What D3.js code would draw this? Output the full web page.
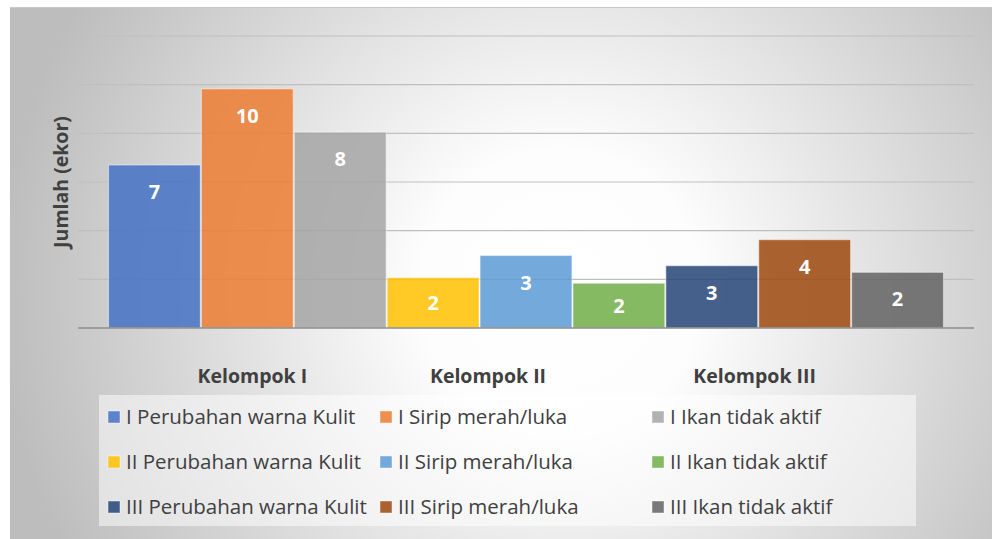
<!DOCTYPE html>
<html>
<head>
<meta charset="utf-8">
<script src="https://cdn.jsdelivr.net/npm/d3@7"></script>
<style>
  body { margin: 0; background: #fff; }
  svg { display: block; font-family: "Open Sans", "Noto Sans", sans-serif; }
</style>
</head>
<body>
<div id="chart"></div>
<script>
// data
const groups = ["Kelompok I", "Kelompok II", "Kelompok III"];
const prefixes = ["I", "II", "III"];
const symptoms = ["Perubahan warna Kulit", "Sirip merah/luka", "Ikan tidak aktif"];
const values1 = [6.7, 9.83, 8.05];
const values2 = [2.07, 2.98, 1.84];
const values3 = [2.56, 3.63, 2.29];
const yTicks = [0, 2, 4, 6, 8, 10, 12];
const colors = ["#4472C4", "#ED7D31", "#A5A5A5",
                "#FFC000", "#5B9BD5", "#70AD47",
                "#264478", "#9E480E", "#636363"];

const W = 992, H = 539;
// label shift from the centre of each group's middle bar (labels sit off-centre in the original)
const labelShift = [5, -38, -50];

const allValues = [values1, values2, values3];
const bars = [];
allValues.forEach((vals, g) => {
  vals.forEach((v, s) => {
    bars.push({
      id: prefixes[g] + " " + symptoms[s],
      group: g,
      value: v,
      color: colors[g * 3 + s]
    });
  });
});

const svg = d3.select("#chart").append("svg")
  .attr("width", W).attr("height", H);

const defs = svg.append("defs");
const grad = defs.append("radialGradient")
  .attr("id", "bg")
  .attr("gradientUnits", "userSpaceOnUse")
  .attr("cx", 560).attr("cy", 290).attr("r", 560);
grad.append("stop").attr("offset", "0%").attr("stop-color", "#ffffff");
grad.append("stop").attr("offset", "25%").attr("stop-color", "#fdfdfd");
grad.append("stop").attr("offset", "100%").attr("stop-color", "#bdbdbd");

// chart area
svg.append("rect")
  .attr("x", 10).attr("y", 7)
  .attr("width", W - 10).attr("height", H - 7)
  .attr("fill", "url(#bg)");
svg.append("line")
  .attr("x1", 10).attr("x2", W).attr("y1", 7.5).attr("y2", 7.5)
  .attr("stroke", "#c8c8c8");

const plot = {left: 78, right: 974, top: 36, bottom: 328};

const y = d3.scaleLinear()
  .domain([0, 12])
  .range([plot.bottom, plot.top]);

const x = d3.scaleBand()
  .domain(bars.map(d => d.id))
  .range([108, 944])
  .paddingInner(0);

// gridlines
svg.append("g")
  .selectAll("line")
  .data(yTicks.filter(t => t > 0))
  .join("line")
    .attr("x1", plot.left).attr("x2", plot.right)
    .attr("y1", d => y(d)).attr("y2", d => y(d))
    .attr("stroke", "#bfbfbf")
    .attr("stroke-width", 1.2);

// bars
svg.append("g")
  .selectAll("rect")
  .data(bars)
  .join("rect")
    .attr("x", d => x(d.id) + 0.5)
    .attr("y", d => y(d.value))
    .attr("width", x.bandwidth() - 1)
    .attr("height", d => y(0) - y(d.value))
    .attr("fill", d => d.color)
    .attr("fill-opacity", 0.85)
    .attr("stroke", "#ffffff")
    .attr("stroke-opacity", 0.45)
    .attr("stroke-width", 1.2);

// baseline
svg.append("line")
  .attr("x1", plot.left).attr("x2", plot.right)
  .attr("y1", y(0)).attr("y2", y(0))
  .attr("stroke", "#8c8c8c")
  .attr("stroke-width", 1.5);

// value labels
svg.append("g")
  .selectAll("text")
  .data(bars)
  .join("text")
    .attr("x", d => x(d.id) + x.bandwidth() / 2)
    .attr("y", d => {
      const h = y(0) - y(d.value);
      return y(d.value) + Math.min(27, h / 2);
    })
    .attr("dy", "0.36em")
    .attr("text-anchor", "middle")
    .attr("fill", "#ffffff")
    .attr("font-weight", "bold")
    .attr("font-size", 20)
    .text(d => d3.format(".0f")(d.value));

// category labels
svg.append("g")
  .selectAll("text")
  .data(groups)
  .join("text")
    .attr("x", (d, i) => x(bars[i * 3 + 1].id) + x.bandwidth() / 2 + labelShift[i])
    .attr("y", 376)
    .attr("dy", "0.35em")
    .attr("text-anchor", "middle")
    .attr("fill", "#404040")
    .attr("font-weight", "bold")
    .attr("font-size", 19.5)
    .text(d => d);

// y-axis title
svg.append("text")
  .attr("transform", "translate(61," + 182 + ") rotate(-90)")
  .attr("text-anchor", "middle")
  .attr("dy", "0.35em")
  .attr("fill", "#404040")
  .attr("font-weight", "bold")
  .attr("font-size", 19.5)
  .text("Jumlah (ekor)");

// legend
const legend = svg.append("g");
legend.append("rect")
  .attr("x", 99).attr("y", 395)
  .attr("width", 817).attr("height", 131)
  .attr("fill", "#ffffff")
  .attr("fill-opacity", 0.5);

const colX = [108, 380, 652];
const rowY = [417, 462, 507];
const items = legend.selectAll("g")
  .data(bars)
  .join("g")
    .attr("transform", (d, i) => `translate(${colX[i % 3]},${rowY[Math.floor(i / 3)]})`);
items.append("rect")
  .attr("x", 0).attr("y", -6)
  .attr("width", 12).attr("height", 12)
  .attr("fill", d => d.color)
  .attr("fill-opacity", 0.85)
  .attr("stroke", "#ffffff")
  .attr("stroke-opacity", 0.45);
items.append("text")
  .attr("x", 18)
  .attr("dy", "0.36em")
  .attr("fill", "#404040")
  .attr("font-size", 20.5)
  .text(d => d.id);
</script>
</body>
</html>
